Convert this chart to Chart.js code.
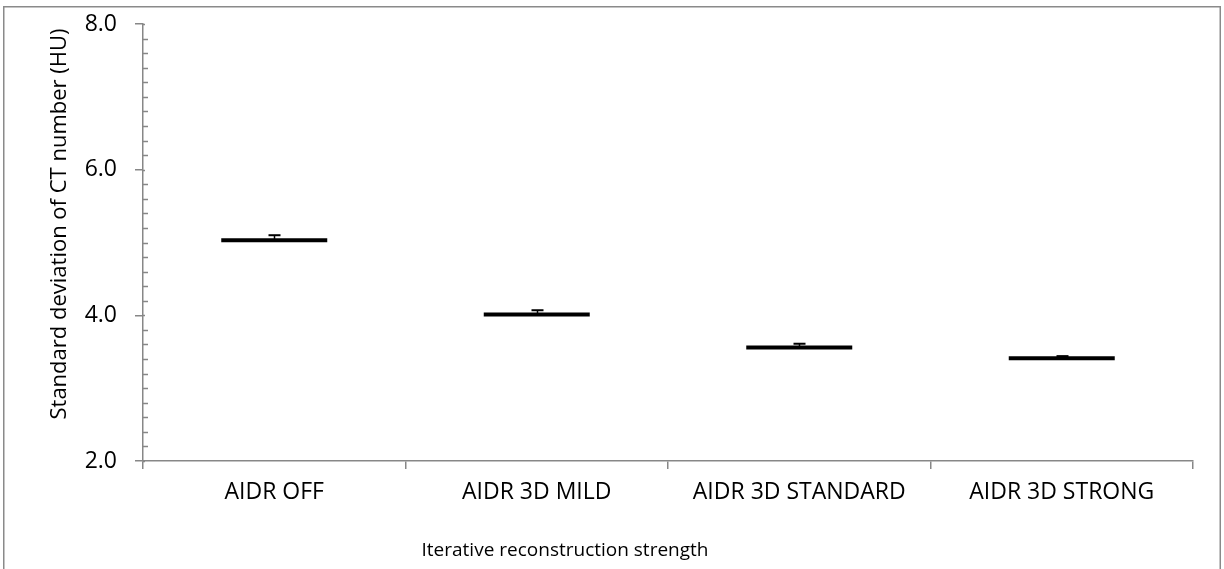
<!DOCTYPE html>
<html><head><meta charset="utf-8">
<script src="https://cdn.jsdelivr.net/npm/chart.js@4.4.0/dist/chart.umd.min.js"></script>
<style>html,body{margin:0;padding:0;background:#fff;} #wrap{width:1224px;height:569px;position:relative;}</style>
</head><body><div id="wrap"><canvas id="c" width="1224" height="569"></canvas></div>
<script>
const categories = ['AIDR OFF', 'AIDR 3D MILD', 'AIDR 3D STANDARD', 'AIDR 3D STRONG'];
const meanValues = [5.03, 4.01, 3.56, 3.41];
const errorValues = [0.07, 0.06, 0.05, 0.03];
const yMajorLabels = ['2.0', '4.0', '6.0', '8.0'];
const xTitle = 'Iterative reconstruction strength';
const yTitle = 'Standard deviation of CT number (HU)';

const FONT = '"Open Sans", sans-serif';
const FSIZE = 23;
const AXIS = '#878787';
const isMajor = v => Math.abs(v - Math.round(v)) < 1e-6 && Math.round(v) % 2 === 0;

const decor = {
  id: 'decor',
  beforeDraw(chart) {
    const c = chart.ctx;
    c.save();
    c.fillStyle = '#fff';
    c.fillRect(0, 0, chart.width, chart.height);
    c.strokeStyle = '#8a8a8a';
    c.lineWidth = 1.5;
    c.strokeRect(3.75, 6.75, 1216.5, 620);
    c.restore();
  },
  afterDraw(chart) {
    const c = chart.ctx, ys = chart.scales.y, area = chart.chartArea;
    c.save();
    c.strokeStyle = AXIS;
    c.lineWidth = 1.5;
    ys.ticks.forEach(t => {
      const y = Math.round(ys.getPixelForValue(t.value)) + 0.5;
      c.beginPath();
      c.moveTo(area.left, y);
      c.lineTo(area.left + (isMajor(t.value) ? 2 : 5), y);
      c.stroke();
    });
    c.fillStyle = '#000';
    c.textAlign = 'center';
    c.textBaseline = 'middle';
    c.font = '19px ' + FONT;
    c.fillText(xTitle, 565, 551);
    c.font = '22px ' + FONT;
    c.translate(60, 224);
    c.rotate(-Math.PI / 2);
    c.fillText(yTitle, 0, 0);
    c.restore();
  },
  afterDatasetsDraw(chart) {
    const c = chart.ctx, ys = chart.scales.y;
    const meta = chart.getDatasetMeta(0);
    c.save();
    c.strokeStyle = '#000';
    meta.data.forEach((pt, i) => {
      const x = Math.round(pt.x) + 0.5;
      const y0 = ys.getPixelForValue(meanValues[i]);
      const y1 = ys.getPixelForValue(meanValues[i] + errorValues[i]);
      c.lineWidth = 1.5;
      c.beginPath(); c.moveTo(x, y0); c.lineTo(x, y1); c.stroke();
      c.lineWidth = 2;
      c.beginPath(); c.moveTo(x - 6, y1); c.lineTo(x + 6, y1); c.stroke();
    });
    c.restore();
  }
};

new Chart(document.getElementById('c'), {
  type: 'line',
  data: {
    labels: categories,
    datasets: [{
      data: meanValues,
      showLine: false,
      pointStyle: 'line',
      pointRadius: 53,
      pointHoverRadius: 53,
      pointBorderWidth: 4,
      pointHoverBorderWidth: 4,
      borderColor: '#000',
      backgroundColor: '#000'
    }]
  },
  plugins: [decor],
  options: {
    responsive: false,
    animation: false,
    events: [],
    layout: { autoPadding: false, padding: { left: 0, right: 31, top: 24, bottom: 0 } },
    plugins: { legend: { display: false }, tooltip: { enabled: false }, title: { display: false } },
    scales: {
      x: {
        type: 'category',
        offset: true,
        afterFit(s) { s.height = 108; s.paddingLeft = 0; s.paddingRight = 0; },
        grid: { offset: true, drawOnChartArea: false, drawTicks: true, tickLength: 8, color: AXIS, lineWidth: 1.5 },
        border: { display: true, color: AXIS, width: 1.5 },
        ticks: { color: '#000', font: { family: FONT, size: FSIZE }, padding: 10, maxRotation: 0, autoSkip: false }
      },
      y: {
        min: 2, max: 8,
        afterFit(s) { s.width = 143; s.paddingTop = 0; s.paddingBottom = 0; },
        grid: {
          drawOnChartArea: false, drawTicks: true, tickLength: 8, lineWidth: 1.5,
          tickColor: ctx => isMajor(ctx.tick.value) ? AXIS : 'rgba(0,0,0,0)'
        },
        border: { display: true, color: AXIS, width: 1.5 },
        ticks: {
          stepSize: 0.2, autoSkip: false, color: '#000', padding: 18,
          font: { family: FONT, size: FSIZE },
          callback: v => isMajor(v) ? yMajorLabels[Math.round((Math.round(v) - 2) / 2)] : ''
        }
      }
    }
  }
});
</script></body></html>
